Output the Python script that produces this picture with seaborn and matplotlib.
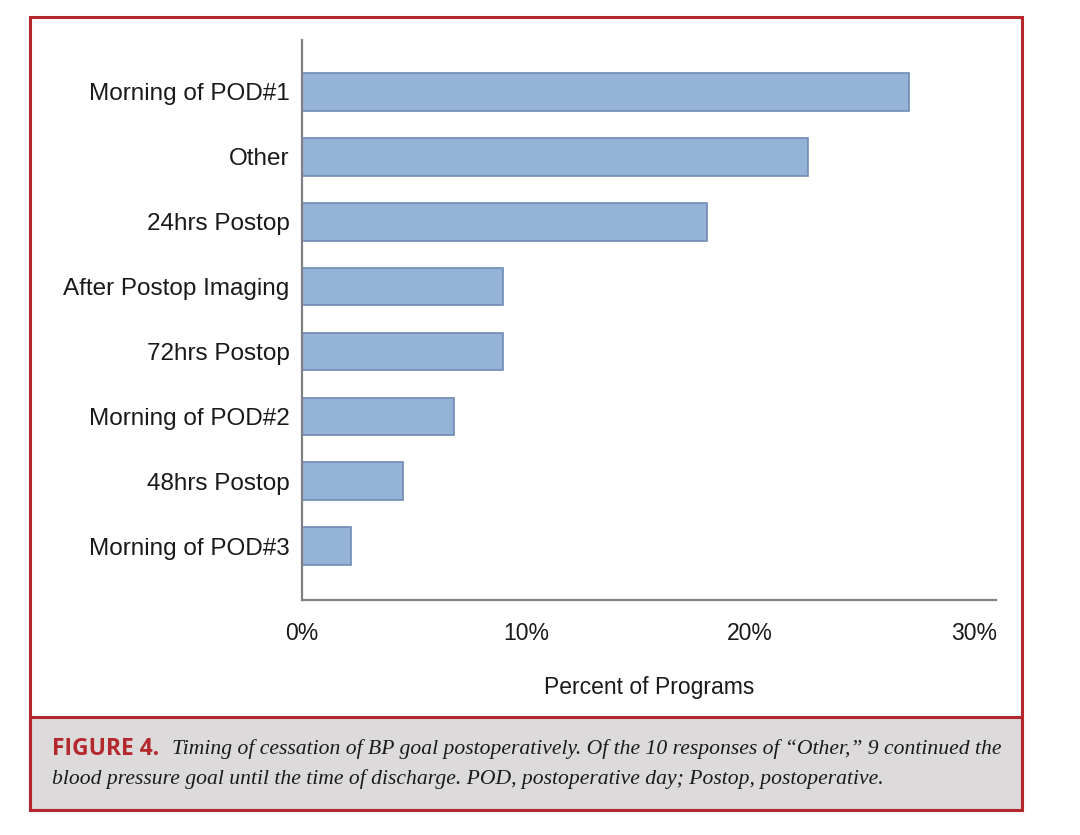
import matplotlib
matplotlib.use("Agg")
import matplotlib.pyplot as plt
import pandas as pd
import seaborn as sns
from matplotlib.patches import Rectangle

categories = ["Morning of POD#1", "Other", "24hrs Postop", "After Postop Imaging",
              "72hrs Postop", "Morning of POD#2", "48hrs Postop", "Morning of POD#3"]
percent = [27.1, 22.6, 18.1, 9.0, 9.0, 6.8, 4.5, 2.2]
tick_values = [0, 10, 20, 30]
tick_labels = ["0%", "10%", "20%", "30%"]

caption_head = "FIGURE 4."
caption_line1 = "Timing of cessation of BP goal postoperatively. Of the 10 responses of \u201cOther,\u201d 9 continued the"
caption_line2 = "blood pressure goal until the time of discharge. POD, postoperative day; Postop, postoperative."

df = pd.DataFrame({"timing": categories, "percent": percent})

sns.set_style("white")
plt.rcParams["font.family"] = ["Liberation Sans", "DejaVu Sans"]

W, H = 1080, 835
fig = plt.figure(figsize=(W / 100, H / 100), dpi=100)
ax = fig.add_axes([302 / W, 1 - 600 / H, (996 - 302) / W, (600 - 40) / H])

sns.barplot(data=df, x="percent", y="timing", orient="h", color="#95b3d7",
            saturation=1, width=0.58, edgecolor="#6f8bb5", linewidth=1.2, ax=ax)

ax.set_xlim(0, 31.0)
ax.set_ylim(7.83, -0.8)
ax.set_xticks(tick_values)
ax.set_xticklabels(tick_labels)
ax.tick_params(axis="both", length=0, colors="#1a1a1a")
ax.tick_params(axis="x", pad=16, labelsize=16.5)
ax.tick_params(axis="y", pad=9, labelsize=17.5)
ax.set_ylabel("")
ax.set_xlabel("Percent of Programs", fontsize=16.5, color="#1a1a1a", labelpad=22)
for s in ["top", "right"]:
    ax.spines[s].set_visible(False)
for s in ["left", "bottom"]:
    ax.spines[s].set_color("#7f7f85")
    ax.spines[s].set_linewidth(1.6)

# red frame and caption box
red = "#b3272d"
fig.patches.append(Rectangle((30 / W, 1 - 810 / H), 992 / W, 93 / H, transform=fig.transFigure,
                             facecolor="#dcdadb", edgecolor=red, lw=2.2, zorder=0))
fig.patches.append(Rectangle((30 / W, 1 - 810 / H), 992 / W, 793 / H, transform=fig.transFigure,
                             fill=False, edgecolor=red, lw=2.2, zorder=5))

fig.text(52 / W, 1 - 749 / H, caption_head, color=red, fontsize=16.5, fontweight="bold",
         family=["Open Sans", "DejaVu Sans"], va="center")
fig.text(172 / W, 1 - 749 / H, caption_line1, color="#1a1a1a", fontsize=15.6, style="italic",
         family=["Liberation Serif", "DejaVu Serif"], va="center")
fig.text(52 / W, 1 - 779 / H, caption_line2, color="#1a1a1a", fontsize=15.6, style="italic",
         family=["Liberation Serif", "DejaVu Serif"], va="center")

fig.savefig("out.png", dpi=100, facecolor="white")
